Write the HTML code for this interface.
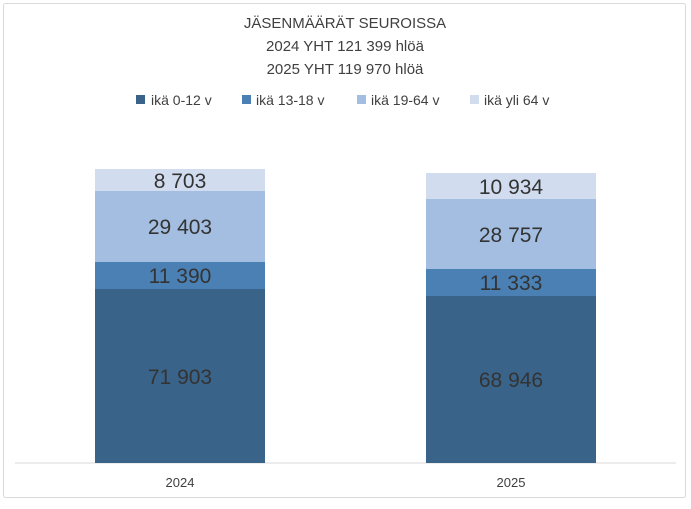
<!DOCTYPE html>
<html><head><meta charset="utf-8"><style>
body{margin:0;background:#fff;}
svg text{font-family:"Liberation Sans",sans-serif;}
</style></head><body>
<svg width="691" height="504" viewBox="0 0 691 504" xmlns="http://www.w3.org/2000/svg">
<rect x="3.5" y="3.5" width="682" height="494" fill="#fff" stroke="#d9d9d9" rx="2"/>
<g fill="#404040" font-size="15" text-anchor="middle">
<text x="345" y="28">JÄSENMÄÄRÄT SEUROISSA</text>
<text x="345" y="51">2024 YHT 121 399 hlöä</text>
<text x="345" y="74">2025 YHT 119 970 hlöä</text>
</g>
<g font-size="14" fill="#404040">
<rect x="136" y="95" width="9" height="9" fill="#3a6389"/><text x="151" y="105">ikä 0-12 v</text>
<rect x="242" y="95" width="9" height="9" fill="#4a80b4"/><text x="256" y="105">ikä 13-18 v</text>
<rect x="357" y="95" width="9" height="9" fill="#a3bee0"/><text x="371" y="105">ikä 19-64 v</text>
<rect x="470" y="95" width="9" height="9" fill="#d1ddef"/><text x="484" y="105">ikä yli 64 v</text>
</g>
<line x1="15" y1="463" x2="676" y2="463" stroke="#d9d9d9"/>
<rect x="95" y="289" width="170" height="174" fill="#3a6389"/>
<rect x="95" y="262" width="170" height="27" fill="#4a80b4"/>
<rect x="95" y="191" width="170" height="71" fill="#a3bee0"/>
<rect x="95" y="169" width="170" height="22" fill="#d1ddef"/>
<rect x="426" y="296" width="170" height="167" fill="#3a6389"/>
<rect x="426" y="269" width="170" height="27" fill="#4a80b4"/>
<rect x="426" y="199" width="170" height="70" fill="#a3bee0"/>
<rect x="426" y="173" width="170" height="26" fill="#d1ddef"/>
<g font-size="21" fill="#333" text-anchor="middle">
<text x="180" y="384">71 903</text>
<text x="180" y="283">11 390</text>
<text x="180" y="234">29 403</text>
<text x="180" y="188">8 703</text>
<text x="511" y="387">68 946</text>
<text x="511" y="290">11 333</text>
<text x="511" y="242">28 757</text>
<text x="511" y="194">10 934</text>
</g>
<g font-size="13" fill="#404040" text-anchor="middle">
<text x="180" y="487">2024</text>
<text x="511" y="487">2025</text>
</g>
</svg>
</body></html>
